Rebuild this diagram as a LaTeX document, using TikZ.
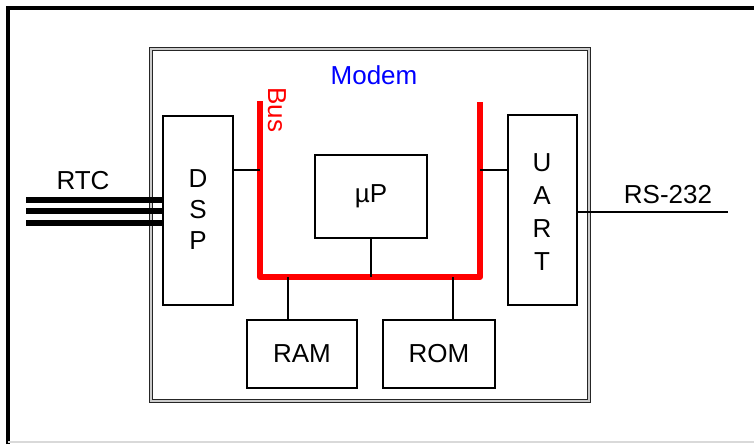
\documentclass[tikz,border=0pt]{standalone}
\usepackage{fontspec}
\setmainfont{Liberation Sans}
\usetikzlibrary{fit}
\begin{document}
\begin{tikzpicture}[x=0.75pt,y=-0.75pt,
  every node/.style={font=\fontsize{19.5}{22}\selectfont},
  box/.style={draw=black, line width=0.9pt, inner sep=0pt},
  wire/.style={draw=black, line width=0.9pt},
  busline/.style={draw=red, line width=4.5pt, line join=round},
  rtcline/.style={draw=black, line width=3.8pt},
  modembox/.style={draw=black!85, double=black!20, double distance=1.6pt, line width=1pt, inner sep=0pt}]
\useasboundingbox (0,0) rectangle (754,444);
% outer frame
\draw[line width=2.4pt] (8,444) -- (8,8) -- (754,8);
\draw[black!15, line width=1.2pt] (8,442) -- (754,442);
% modem container
\node[modembox, fit={(151,49) (589,401)}] (modem) {};
\node[blue] (modemlbl) at (374,75) {Modem};
% blocks
\node[box, fit={(163,116) (233,305)}] (dsp) {};
\node[align=center, font=\fontsize{19.5}{23.25}\selectfont] (dsplbl) at (198,210) {D\\S\\P};
\node[box, fit={(508,115) (577,305)}] (uart) {};
\node[align=center, font=\fontsize{19.5}{24.75}\selectfont] (uartlbl) at (542,212) {U\\A\\R\\T};
\node[box, fit={(315,155) (427,238)}, label={[font=\fontsize{19.5}{22}\selectfont]center:\textmu P}] (up) {};
\node[box, fit={(247,320) (357,388)}, label={[font=\fontsize{19.5}{22}\selectfont]center:RAM}] (ram) {};
\node[box, fit={(383,320) (495,388)}, label={[font=\fontsize{19.5}{22}\selectfont]center:ROM}] (rom) {};
% bus
\draw[busline] (260,101) -- (260,277) -- (480,277) -- (480,102);
\node[red, rotate=-90] (buslbl) at (277,110) {Bus};
\coordinate (b1) at (260,170);
\coordinate (b2) at (480,170);
\coordinate (b3) at (371,277);
\coordinate (b4) at (288,277);
\coordinate (b5) at (453,277);
\draw[wire] (dsp.east |- b1) -- (b1);
\draw[wire] (b2) -- (uart.west |- b2);
\draw[wire] (up.south) -- (b3);
\draw[wire] (b4) -- (ram.north -| b4);
\draw[wire] (b5) -- (rom.north -| b5);
% RTC lines
\coordinate (r1) at (26,200);
\coordinate (r2) at (26,211);
\coordinate (r3) at (26,223);
\draw[rtcline] (r1) -- (dsp.west |- r1);
\draw[rtcline] (r2) -- (dsp.west |- r2);
\draw[rtcline] (r3) -- (dsp.west |- r3);
\node (rtclbl) at (83,181) {RTC};
% RS-232
\coordinate (rsend) at (728,212);
\draw[black, line width=2pt] (uart.east |- rsend) -- (rsend);
\node (rslbl) at (668,195) {RS-232};
\end{tikzpicture}
\end{document}
